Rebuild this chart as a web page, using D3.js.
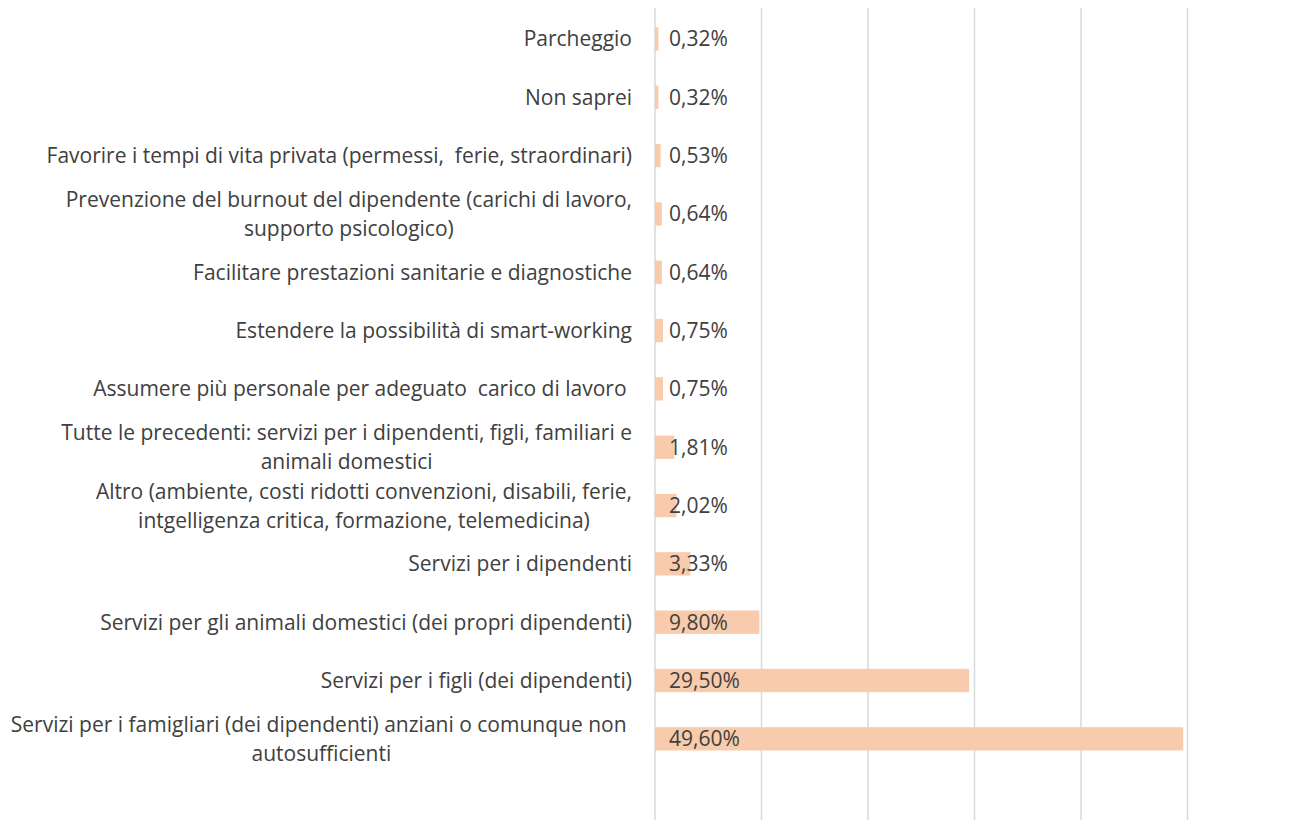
<!DOCTYPE html>
<html>
<head>
<meta charset="utf-8">
<script src="https://cdn.jsdelivr.net/npm/d3@7"></script>
<style>
    body { margin: 0; background: #fff; }
    text { font-family: "Open Sans", Lato, sans-serif; fill: #404040; }
    .grid line { stroke: #d9d9d9; stroke-width: 1.5; }
</style>
</head>
<body>
<svg></svg>
<script>
const categories = [
    "Parcheggio",
    "Non saprei",
    "Favorire i tempi di vita privata (permessi,  ferie, straordinari)",
    "Prevenzione del burnout del dipendente (carichi di lavoro,\nsupporto psicologico)",
    "Facilitare prestazioni sanitarie e diagnostiche",
    "Estendere la possibilità di smart-working",
    "Assumere più personale per adeguato  carico di lavoro ",
    "Tutte le precedenti: servizi per i dipendenti, figli, familiari e\nanimali domestici",
    "Altro (ambiente, costi ridotti convenzioni, disabili, ferie,\nintgelligenza critica, formazione, telemedicina)",
    "Servizi per i dipendenti",
    "Servizi per gli animali domestici (dei propri dipendenti)",
    "Servizi per i figli (dei dipendenti)",
    "Servizi per i famigliari (dei dipendenti) anziani o comunque non \nautosufficienti"
]
const values = [0.32, 0.32, 0.53, 0.64, 0.64, 0.75, 0.75, 1.81, 2.02, 3.33, 9.80, 29.50, 49.60]
const gridTicks = [0, 10, 20, 30, 40, 50]

const width = 1292
const height = 820

const svg = d3.select("svg")
    .attr("width", width)
    .attr("height", height)

const x = d3.scaleLinear()
    .domain([0, 50])
    .range([655, 1187.5])

const y = d3.scaleBand()
    .domain(categories)
    .range([9.8, 768])
    .paddingInner(0.6)
    .paddingOuter(0.3)

// vertical gridlines
svg.append("g")
    .attr("class", "grid")
    .selectAll("line")
    .data(gridTicks)
    .enter()
    .append("line")
    .attr("x1", d => x(d))
    .attr("x2", d => x(d))
    .attr("y1", 8)
    .attr("y2", height)

svg.append("g")
    .selectAll("rect")
    .data(values)
    .enter()
    .append("rect")
    .attr("x", x(0))
    .attr("y", (d, i) => y(categories[i]))
    .attr("width", d => x(d) - x(0))
    .attr("height", y.bandwidth())
    .style("fill", "#f8cbad")

// value labels, inside base
svg.append("g")
    .selectAll("text")
    .data(values)
    .enter()
    .append("text")
    .attr("x", x(0) + 14)
    .attr("y", (d, i) => y(categories[i]) + y.bandwidth() / 2 + 7.5)
    .style("font-size", "21px")
    .text(d => d.toFixed(2).replace(".", ",") + "%")

// category labels: block right-aligned, lines centred within block
const labelRight = 632
const lineH = 29

const labels = svg.append("g")
    .selectAll("text")
    .data(categories)
    .enter()
    .append("text")
    .style("font-size", "21px")
    .attr("text-anchor", "middle")

labels.each(function(d, i) {
    const lines = d.split("\n")
    const t = d3.select(this)
    const cy = y(d) + y.bandwidth() / 2
    lines.forEach((ln, j) => {
        t.append("tspan")
            .attr("xml:space", "preserve")
            .attr("y", cy + 7.5 + (j - (lines.length - 1) / 2) * lineH)
            .text(ln)
    })
    let maxW = 0
    t.selectAll("tspan").each(function() {
        maxW = Math.max(maxW, this.getComputedTextLength())
    })
    t.selectAll("tspan").attr("x", labelRight - maxW / 2)
})
</script>
</body>
</html>
